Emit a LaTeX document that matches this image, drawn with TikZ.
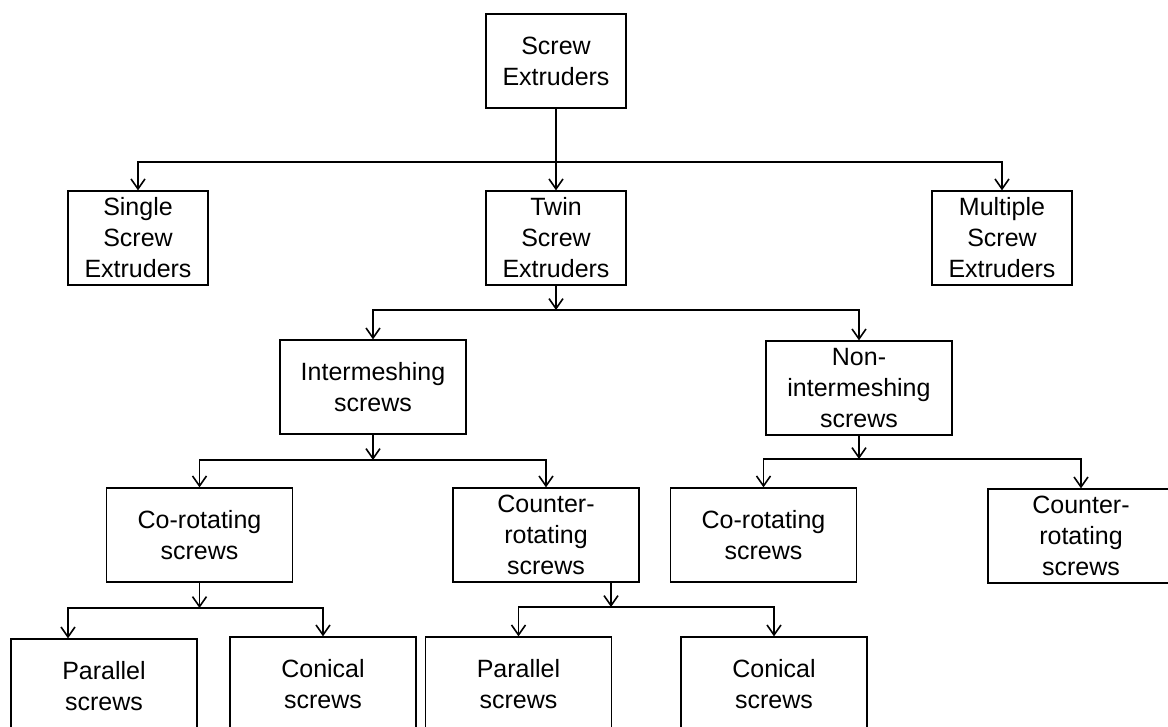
\documentclass[tikz,border=0pt]{standalone}
\usepackage{fontspec}
\setmainfont{Liberation Sans}
\usetikzlibrary{arrows.meta}

\begin{document}
\begin{tikzpicture}[x=1pt,y=-1pt]
\tikzset{box/.style = {shape=rectangle,draw,line width=1.3pt,align=center,inner sep=0pt,
  minimum width=186pt,minimum height=94pt,font=\fontsize{25pt}{31pt}\selectfont}}
\tikzset{small/.style = {box,minimum width=140pt}}
\tikzset{edge/.style = {-{Straight Barb[length=10pt,width=14pt]},line width=1.6pt}}
\useasboundingbox (0,0) rectangle (1168,726);
\clip (0,0) rectangle (1168,726);
% boxes
\node[small] (root) at (556,61)  {Screw\\Extruders};
\node[small] (single) at (138,238) {Single\\Screw\\Extruders};
\node[small] (twin) at (556,238) {Twin\\Screw\\Extruders};
\node[small] (multi) at (1002,238) {Multiple\\Screw\\Extruders};
\node[box] (inter) at (373,387) {Intermeshing\\screws};
\node[box] (nonint) at (859,388) {Non-\\intermeshing\\screws};
\node[box] (coA) at (199.5,535) {Co-rotating\\screws};
\node[box] (ctA) at (546,535) {Counter-\\rotating\\screws};
\node[box] (coB) at (763.5,535) {Co-rotating\\screws};
\node[box] (ctB) at (1081,536) {Counter-\\rotating\\screws};
\node[box] (parA) at (104,686) {Parallel\\screws};
\node[box] (conA) at (323,684) {Conical\\screws};
\node[box] (parB) at (518.5,684) {Parallel\\screws};
\node[box] (conB) at (774,684) {Conical\\screws};
% junctions
\coordinate (j0) at (556,162);
\coordinate (j1) at (556,310);
\coordinate (j2) at (373,460);
\coordinate (j3) at (859,459);
\coordinate (j4) at (199.5,608);
\coordinate (j5) at (611,607);
\coordinate (p1) at (68,608);
%edges
\draw[edge] (root.south) -- (twin.north);
\draw[edge] (j0) -| (single.north);
\draw[edge] (j0) -| (multi.north);
\draw[edge] (twin.south) -- (j1);
\draw[edge] (j1) -| (inter.north);
\draw[edge] (j1) -| (nonint.north);
\draw[edge] (inter.south) -- (j2);
\draw[edge] (j2) -| (coA.north);
\draw[edge] (j2) -| (ctA.north);
\draw[edge] (nonint.south) -- (j3);
\draw[edge] (j3) -| (coB.north);
\draw[edge] (j3) -| (ctB.north);
\draw[edge] (coA.south) -- (j4);
\draw[edge] (j4) -- (p1) -- (p1 |- parA.north);
\draw[edge] (j4) -| (conA.north);
\draw[edge] (ctA.south -| j5) -- (j5);
\draw[edge] (j5) -| (parB.north);
\draw[edge] (j5) -| (conB.north);
\end{tikzpicture}
\end{document}
